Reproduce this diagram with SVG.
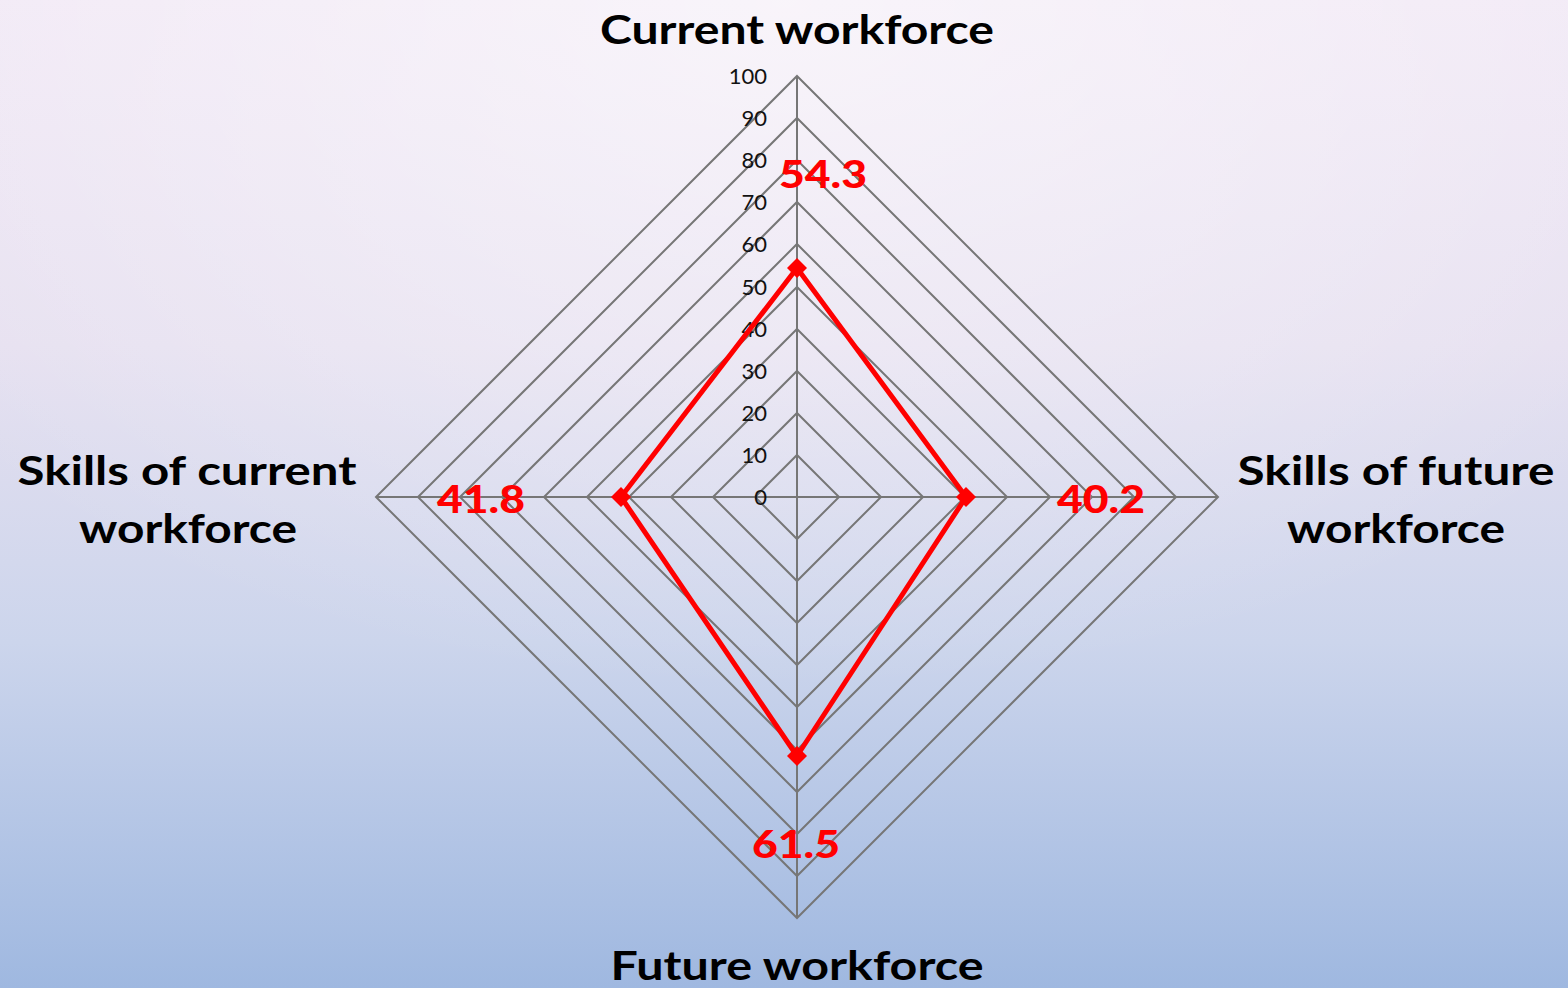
<svg xmlns="http://www.w3.org/2000/svg" width="1568" height="988" viewBox="0 0 1568 988">
<defs>
<linearGradient id="bg" x1="0" y1="0" x2="0" y2="1">
<stop offset="0" stop-color="#f1e8f5"/>
<stop offset="0.35" stop-color="#e6e0f0"/>
<stop offset="0.65" stop-color="#ccd5ec"/>
<stop offset="1" stop-color="#9fb8e0"/>
</linearGradient>
<radialGradient id="glow" cx="0.5" cy="0" r="0.7">
<stop offset="0" stop-color="#ffffff" stop-opacity="0.55"/>
<stop offset="1" stop-color="#ffffff" stop-opacity="0"/>
</radialGradient>
<style>
.grid{fill:none;stroke:#767676;stroke-width:2}
.tick{font-family:"Lato","Liberation Sans",sans-serif;font-size:22px;fill:#111;text-anchor:end}
.axis{font-family:"Lato","Liberation Sans",sans-serif;font-weight:bold;font-size:40px;fill:#000;text-anchor:middle}
.val{font-family:"Lato","Liberation Sans",sans-serif;font-weight:900;font-size:38px;fill:#ff0000;text-anchor:middle}
.series{fill:none;stroke:#ff0000;stroke-width:5;stroke-linejoin:round}
.mk{fill:#ff0000}
</style>
</defs>
<rect width="1568" height="988" fill="url(#bg)"/>
<rect width="1568" height="988" fill="url(#glow)"/>
<g id="grid">
<polygon class="grid" points="797,76 1218,497 797,918 376,497"/>
<polygon class="grid" points="797,118 1176,497 797,876 418,497"/>
<polygon class="grid" points="797,160 1134,497 797,834 460,497"/>
<polygon class="grid" points="797,202 1092,497 797,792 502,497"/>
<polygon class="grid" points="797,244 1050,497 797,750 544,497"/>
<polygon class="grid" points="797,287 1007,497 797,707 587,497"/>
<polygon class="grid" points="797,329 965,497 797,665 629,497"/>
<polygon class="grid" points="797,371 923,497 797,623 671,497"/>
<polygon class="grid" points="797,413 881,497 797,581 713,497"/>
<polygon class="grid" points="797,455 839,497 797,539 755,497"/>
<line class="grid" x1="797" y1="76" x2="797" y2="918"/>
<line class="grid" x1="376" y1="497" x2="1218" y2="497"/>
</g>
<g id="ticks">
<text class="tick" x="767" y="84">100</text>
<text class="tick" x="767" y="126">90</text>
<text class="tick" x="767" y="168">80</text>
<text class="tick" x="767" y="210">70</text>
<text class="tick" x="767" y="252">60</text>
<text class="tick" x="767" y="295">50</text>
<text class="tick" x="767" y="337">40</text>
<text class="tick" x="767" y="379">30</text>
<text class="tick" x="767" y="421">20</text>
<text class="tick" x="767" y="463">10</text>
<text class="tick" x="767" y="505">0</text>
</g>
<g id="connectors">
<polygon class="series" points="797,268 966,497 797,756 621,497"/>
</g>
<g id="markers">
<polygon class="mk" points="797,258 807,268 797,278 787,268"/>
<polygon class="mk" points="966,487 976,497 966,507 956,497"/>
<polygon class="mk" points="797,746 807,756 797,766 787,756"/>
<polygon class="mk" points="621,487 631,497 621,507 611,497"/>
</g>
<g id="node-current-workforce">
<text class="axis" x="797" y="44" textLength="394" lengthAdjust="spacingAndGlyphs">Current workforce</text>
<text class="val" x="823" y="188" textLength="88" lengthAdjust="spacingAndGlyphs">54.3</text>
</g>
<g id="node-skills-future">
<text class="axis" x="1396" y="485" textLength="317" lengthAdjust="spacingAndGlyphs">Skills of future</text>
<text class="axis" x="1396" y="543" textLength="218" lengthAdjust="spacingAndGlyphs">workforce</text>
<text class="val" x="1101" y="513" textLength="88" lengthAdjust="spacingAndGlyphs">40.2</text>
</g>
<g id="node-future-workforce">
<text class="axis" x="797" y="980" textLength="373" lengthAdjust="spacingAndGlyphs">Future workforce</text>
<text class="val" x="796" y="858" textLength="88" lengthAdjust="spacingAndGlyphs">61.5</text>
</g>
<g id="node-skills-current">
<text class="axis" x="187" y="485" textLength="339" lengthAdjust="spacingAndGlyphs">Skills of current</text>
<text class="axis" x="188" y="543" textLength="218" lengthAdjust="spacingAndGlyphs">workforce</text>
<text class="val" x="481" y="513" textLength="88" lengthAdjust="spacingAndGlyphs">41.8</text>
</g>
</svg>
